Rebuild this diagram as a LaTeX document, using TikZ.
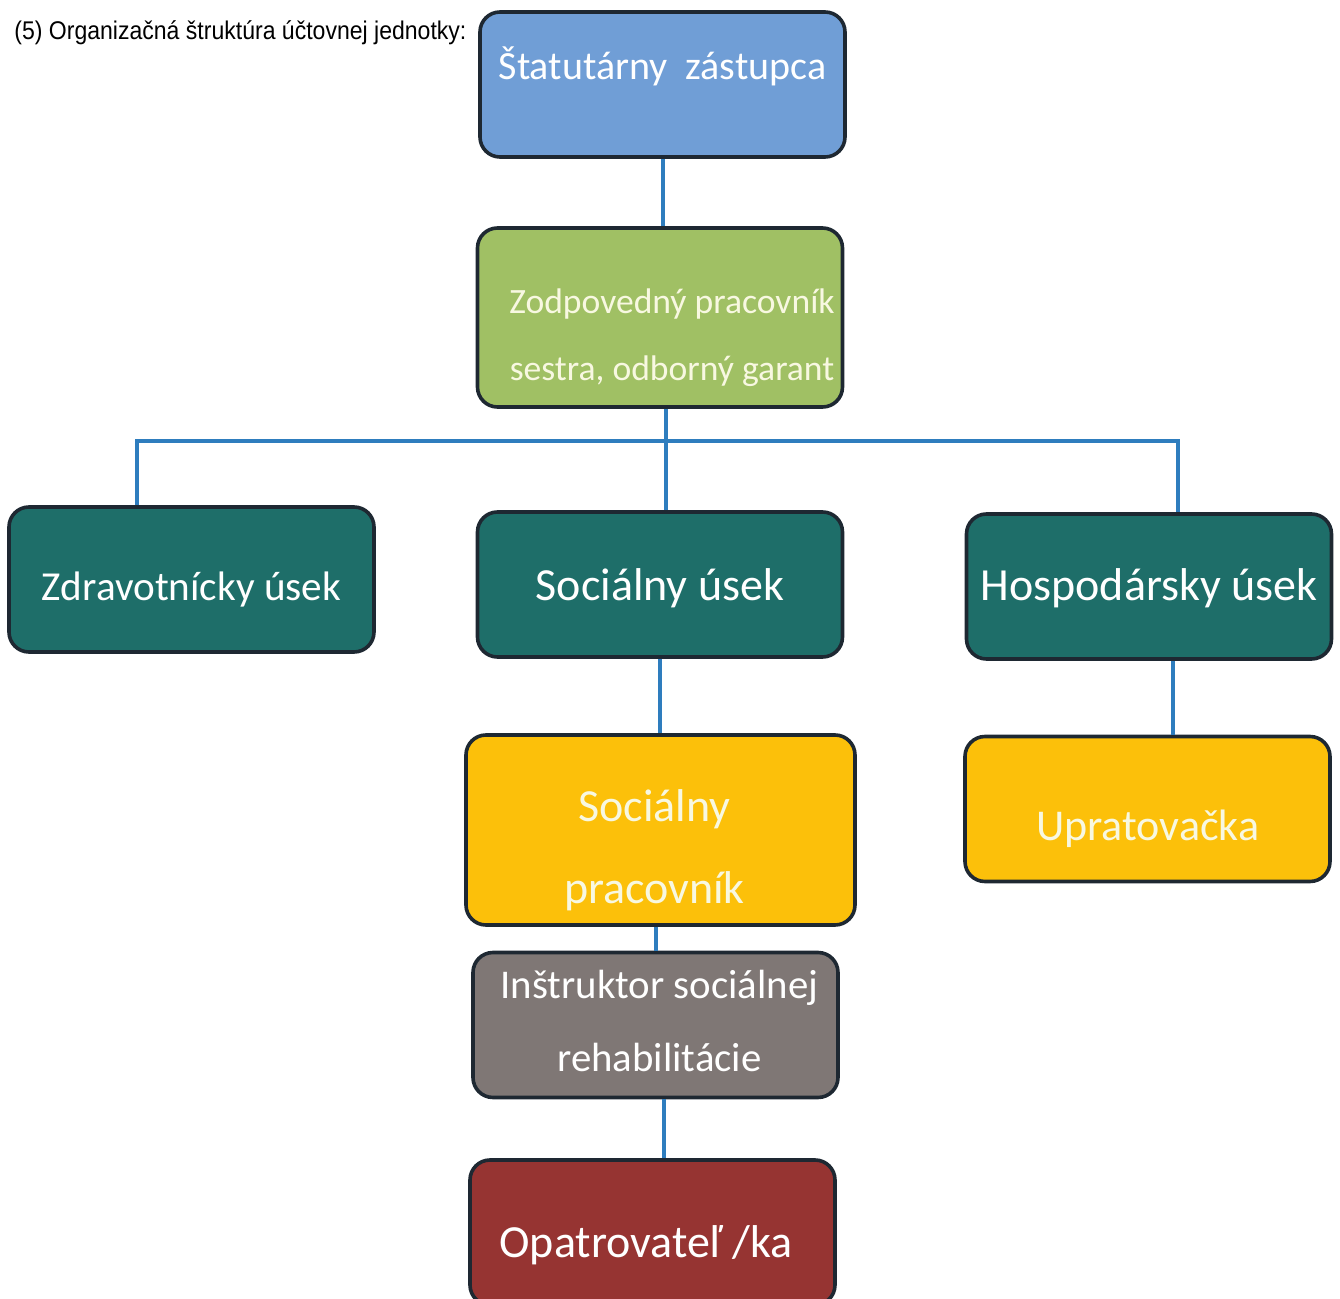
\documentclass[tikz,border=0pt]{standalone}
\usepackage{fontspec}
\setmainfont{Carlito}
\newfontfamily\titlefont[FakeStretch=0.9]{Liberation Sans}
\usetikzlibrary{positioning}

\definecolor{boxline}{RGB}{30,40,50}
\definecolor{linkblue}{RGB}{46,125,190}
\definecolor{statblue}{RGB}{112,158,214}
\definecolor{zodpgreen}{RGB}{160,192,100}
\definecolor{usekteal}{RGB}{30,110,105}
\definecolor{pracyellow}{RGB}{252,192,10}
\definecolor{instrgray}{RGB}{127,119,117}
\definecolor{opatred}{RGB}{150,52,50}
\definecolor{softwhite}{RGB}{248,248,225}

% text moved inside a box, without changing the box size
\newcommand{\boxtext}[3][0pt]{\raisebox{#2}[0pt][0pt]{\hspace*{#1}\begin{tabular}{@{}c@{}}#3\end{tabular}}}

\tikzset{
	orgbox/.style={draw=boxline,line width=1.8pt,rounded corners=10pt,
		minimum width=182.5pt,minimum height=72.5pt,inner sep=0pt,text=white},
	link/.style={draw=linkblue,line width=2pt},
}

\begin{document}
\begin{tikzpicture}[x=0.5pt,y=-0.5pt]
	\useasboundingbox (0,0) rectangle (1340,1299);
	\clip (0,0) rectangle (1340,1299);

	\node[anchor=base west,inner sep=0pt,font=\titlefont\fontsize{12.8}{15}\selectfont] (title) at (14,40) {(5) Organizačná štruktúra účtovnej jednotky:};

	\node[orgbox,fill=statblue,font=\fontsize{20}{24}\selectfont] (stat) at (662.5,84.5) {\boxtext{2pt}{Štatutárny\ \ zástupca}};
	\node[orgbox,fill=zodpgreen,text=softwhite,minimum height=89.5pt,font=\fontsize{17.8}{33.5}\selectfont] (zodp) at (660,317.5) {\boxtext[12pt]{-12.6pt}{Zodpovedný pracovník\\sestra, odborný garant}};

	\node[orgbox,fill=usekteal,font=\fontsize{20.6}{24.7}\selectfont] (zdrav) at (191.5,579.5) {\boxtext{-10.5pt}{Zdravotnícky úsek}};
	\node[orgbox,fill=usekteal,font=\fontsize{23}{27.6}\selectfont] (socu) at (660,584.5) {\boxtext{-8.5pt}{Sociálny úsek}};
	\node[orgbox,fill=usekteal,font=\fontsize{23}{27.6}\selectfont] (hosp) at (1149,586.5) {\boxtext{-7.5pt}{Hospodársky úsek}};

	\node[orgbox,fill=pracyellow,text=softwhite,minimum width=194.5pt,minimum height=95pt,font=\fontsize{23}{41}\selectfont] (socp) at (660.5,830) {\boxtext[-6pt]{-14.5pt}{Sociálny\\pracovník}};
	\node[orgbox,fill=pracyellow,text=softwhite,font=\fontsize{22}{26.4}\selectfont] (upr) at (1147.5,809) {\boxtext{-15.8pt}{Upratovačka}};

	\node[orgbox,fill=instrgray,font=\fontsize{20.4}{36.5}\selectfont] (instr) at (655.5,1025) {\boxtext[4pt]{-3pt}{Inštruktor sociálnej\\rehabilitácie}};
	\node[orgbox,fill=opatred,font=\fontsize{23}{27.6}\selectfont] (opat) at (652.5,1232.5) {\boxtext[-6.5pt]{-13pt}{Opatrovateľ /ka}};

	% connectors
	\coordinate (busL) at (137,441);
	\coordinate (busR) at (1178,441);
	\draw[link] (stat.south) -- (stat.south |- zodp.north);
	\draw[link] ([xshift=3pt]zodp.south) -- ([xshift=3pt]zodp.south |- socu.north);
	\draw[link] (zdrav.north -| busL) -- (busL) -- (busR) -- (hosp.north -| busR);
	\draw[link] (socu.south) -- (socu.south |- socp.north);
	\draw[link] ([xshift=12pt]hosp.south) -- ([xshift=12pt]hosp.south |- upr.north);
	\draw[link] (instr.north |- socp.south) -- (instr.north);
	\draw[link] ([xshift=4pt]instr.south) -- ([xshift=4pt]instr.south |- opat.north);
\end{tikzpicture}
\end{document}
